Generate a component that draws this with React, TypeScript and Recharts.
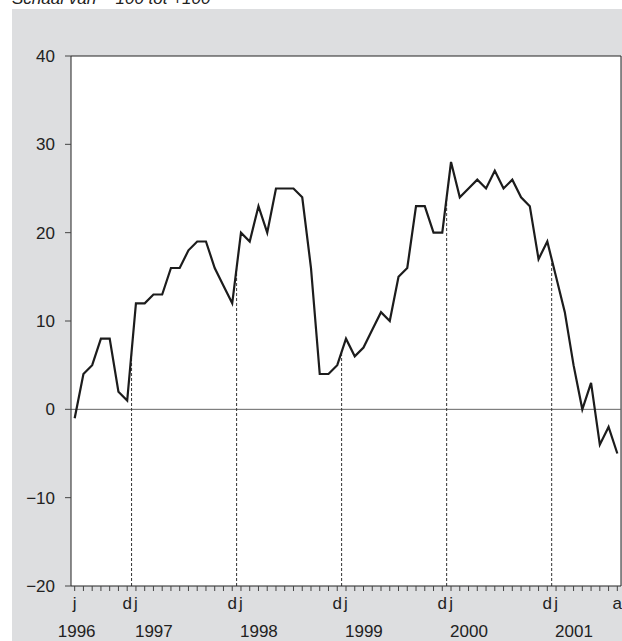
import React from "react";
import { LineChart, Line, XAxis, YAxis, ReferenceLine, ReferenceArea } from "recharts";

// monthly balance, June 1996 - August 2001
const values = [
  -1, 4, 5, 8, 8, 2, 1,
  12, 12, 13, 13, 16, 16, 18, 19, 19, 16, 14, 12,
  20, 19, 23, 20, 25, 25, 25, 24, 16, 4, 4, 5,
  8, 6, 7, 9, 11, 10, 15, 16, 23, 23, 20, 20,
  28, 24, 25, 26, 25, 27, 25, 26, 24, 23, 17, 19,
  15, 11, 5, 0, 3, -4, -2, -5,
];
const years = ["1996", "1997", "1998", "1999", "2000", "2001"];
const monthLetters = ["j", "f", "m", "a", "m", "j", "j", "a", "s", "o", "n", "d"];
const firstMonth = 5; // juni
const yTicks = [-20, -10, 0, 10, 20, 30, 40];

const data = values.map((v, i) => ({ t: i, v }));
const monthOf = (i: number) => (firstMonth + i) % 12;
const xTicks = data.map((d) => d.t);
const xDomain = [-0.42, values.length - 1 + 0.42];

// year boundaries: dashed line from the axis up to the curve
const boundaries = data
  .filter((d, i) => monthOf(i) === 11 && i < values.length - 1)
  .map((d) => ({ x: d.t + 0.5, y: (values[d.t] + values[d.t + 1]) / 2 }));

const FONT = "'Liberation Sans', Arial, sans-serif";
const INK = "#222";

function MonthTick(props: any) {
  const { x, y, payload } = props;
  const i = payload.value as number;
  const m = monthOf(i);
  const last = i === values.length - 1;
  let letter = "";
  if (i === 0 || m === 11 || m === 0 || last) letter = monthLetters[m];
  let year: React.ReactNode = null;
  if (i === 0) {
    year = (
      <text x={x + 2} y={y + 46} textAnchor="middle" fill={INK} fontSize={17} fontFamily={FONT}>
        {years[0]}
      </text>
    );
  } else if (m === 0) {
    const yi = Math.floor((firstMonth + i) / 12);
    year = (
      <text x={x - 1} y={y + 46} textAnchor="start" fill={INK} fontSize={17} fontFamily={FONT}>
        {years[yi]}
      </text>
    );
  }
  return (
    <g>
      {letter && (
        <text x={x} y={y + 18} textAnchor="middle" fill={INK} fontSize={17} fontFamily={FONT}>
          {letter}
        </text>
      )}
      {year}
    </g>
  );
}

export default function App() {
  return (
    <div style={{ position: "absolute", left: 0, top: 0, width: 622, height: 641, background: "#fff", overflow: "hidden" }}>
      <div
        style={{
          position: "absolute",
          left: 12,
          top: 9,
          width: 610,
          height: 632,
          background: "#dddee0",
        }}
      >
        <LineChart
          width={610}
          height={632}
          data={data}
          margin={{ top: 47, right: 1, bottom: 0, left: 0 }}
        >
          <ReferenceArea x1={xDomain[0]} x2={xDomain[1]} y1={-20} y2={40} fill="#fff" fillOpacity={1} stroke="none" />
          <XAxis
            dataKey="t"
            type="number"
            domain={xDomain}
            ticks={xTicks}
            interval={0}
            height={55}
            tickSize={5}
            tickMargin={0}
            tick={<MonthTick />}
            axisLine={{ stroke: INK }}
            tickLine={{ stroke: "#444" }}
            allowDataOverflow
          />
          <YAxis
            domain={[-20, 40]}
            ticks={yTicks}
            width={59}
            tickSize={6}
            tickMargin={10}
            axisLine={{ stroke: INK }}
            tickLine={{ stroke: "#444" }}
            tick={{ fill: INK, fontSize: 17, fontFamily: FONT }}
            tickFormatter={(v: number) => (v < 0 ? "\u2212" + Math.abs(v) : String(v))}
          />
          <ReferenceLine x={xDomain[1]} stroke={INK} />
          <ReferenceLine y={40} stroke={INK} />
          <ReferenceLine y={0} stroke="#666" />
          {boundaries.map((b) => (
            <ReferenceLine
              key={b.x}
              segment={[
                { x: b.x, y: -20 },
                { x: b.x, y: b.y },
              ]}
              stroke="#333"
              strokeDasharray="3 2"
            />
          ))}
          <Line
            type="linear"
            dataKey="v"
            stroke="#1c1c1c"
            strokeWidth={2.2}
            dot={false}
            isAnimationActive={false}
          />
        </LineChart>
      </div>
      <div
        style={{
          position: "absolute",
          left: 12,
          top: -10,
          fontFamily: FONT,
          fontStyle: "italic",
          fontSize: 17,
          lineHeight: "17px",
          color: INK,
          whiteSpace: "pre",
        }}
      >
        {"Schaal van  \u2212100 tot +100"}
      </div>
    </div>
  );
}
